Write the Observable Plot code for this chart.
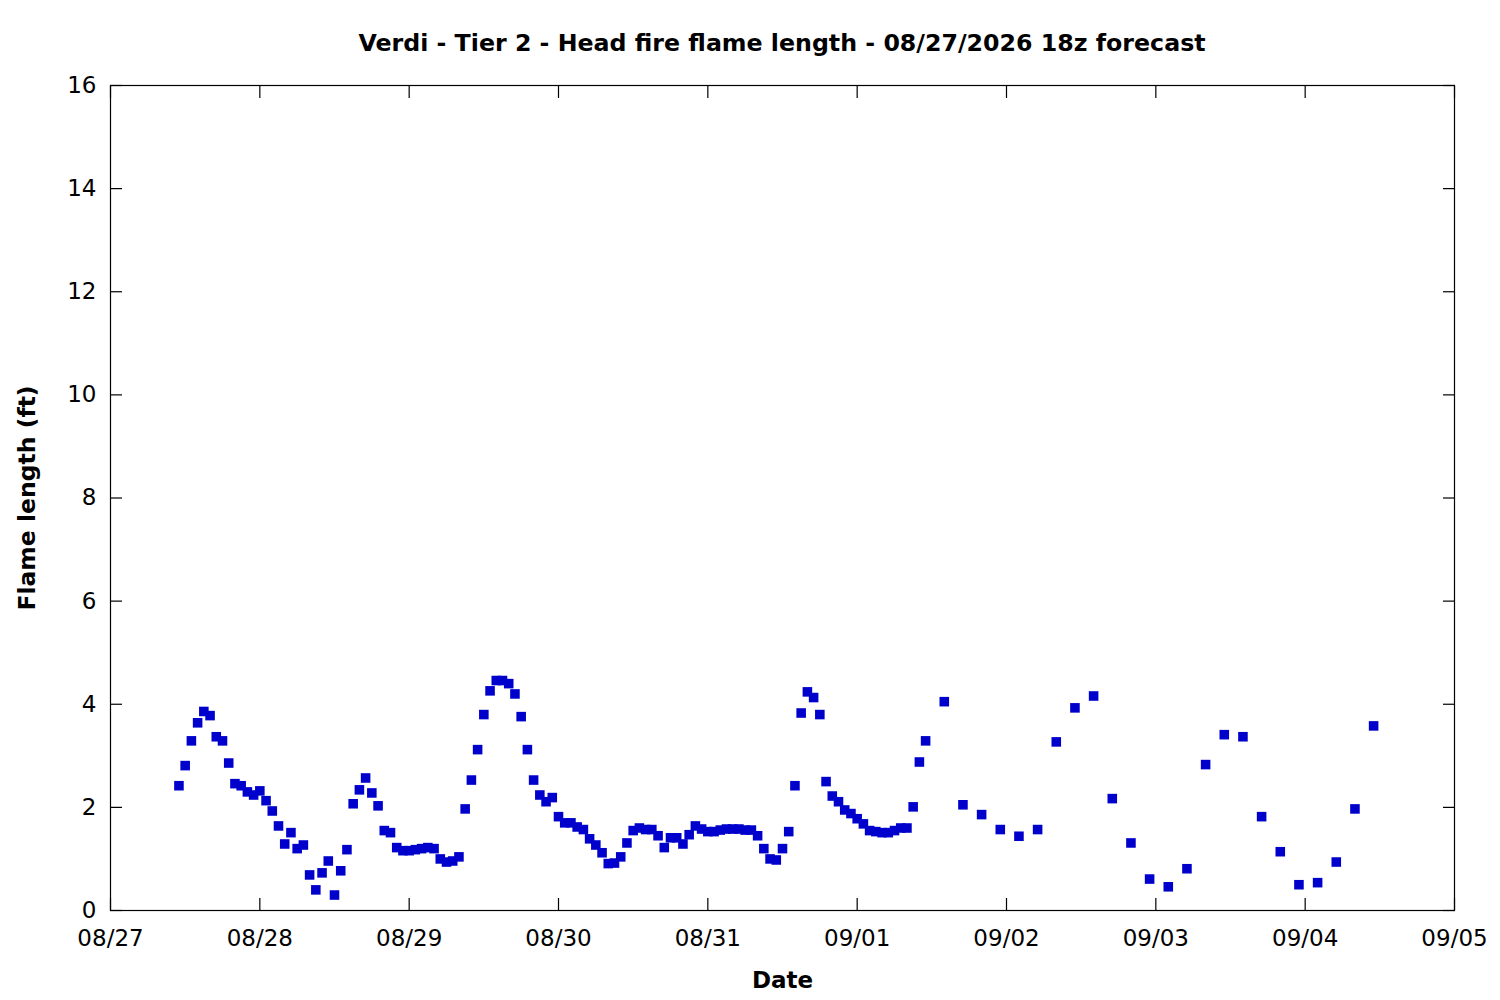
<!DOCTYPE html>
<html><head><meta charset="utf-8">
<script src="https://cdn.jsdelivr.net/npm/d3@7"></script>
<script src="https://cdn.jsdelivr.net/npm/@observablehq/plot@0.6"></script>
<style>
body{margin:0;background:#fff;font-family:"DejaVu Sans",sans-serif;}
#wrap{position:relative;width:1500px;height:1000px;background:#fff;}
#title{position:absolute;top:28px;left:110px;width:1344px;text-align:center;font-weight:bold;font-size:23.7px;line-height:30px;color:#000;}
#chart{position:absolute;top:70px;left:0;}
</style></head><body>
<div id="wrap"><div id="title">Verdi - Tier 2 - Head fire flame length - 08/27/2026 18z forecast</div><div id="chart"></div></div>
<script>
// Hourly forecast values, starting 2026-08-27 11:00 UTC
const hourlyStart = "2026-08-27T11:00:00Z";
const hourlyValues = [
  2.42, 2.81, 3.29, 3.64, 3.86, 3.78, 3.37, 3.29, 2.86, 2.46, 2.42, 2.30, 2.24,
  2.32, 2.13, 1.93, 1.64, 1.29, 1.51, 1.20, 1.27, 0.69, 0.40, 0.73, 0.96, 0.30,
  0.77, 1.18, 2.07, 2.34, 2.57, 2.28, 2.03, 1.55, 1.51, 1.22, 1.16,
  1.16, 1.18, 1.20, 1.22, 1.20, 1.00, 0.94, 0.96, 1.04, 1.97, 2.53, 3.12, 3.80,
  4.26, 4.46, 4.46, 4.40, 4.20, 3.76, 3.12, 2.53, 2.24, 2.11, 2.19,
  1.82, 1.70, 1.70, 1.62, 1.57, 1.39, 1.27, 1.12, 0.91, 0.92, 1.04, 1.31, 1.55,
  1.60, 1.57, 1.57, 1.45, 1.22, 1.41, 1.41, 1.29, 1.47, 1.64, 1.58,
  1.53, 1.53, 1.56, 1.58, 1.58, 1.58, 1.56, 1.56, 1.45, 1.20, 1.00, 0.98, 1.20,
  1.53, 2.42, 3.83, 4.24, 4.13, 3.80, 2.50, 2.22, 2.11, 1.95, 1.88,
  1.78, 1.68, 1.55, 1.53, 1.51, 1.51, 1.55, 1.60, 1.60, 2.01, 2.88, 3.29
];
// 3-hourly forecast values, starting 2026-09-01 14:00 UTC
const threeHourlyStart = "2026-09-01T14:00:00Z";
const threeHourlyValues = [
  4.05, 2.05, 1.86, 1.57, 1.44, 1.57, 3.27, 3.93, 4.16, 2.17, 1.31, 0.61,
  0.46, 0.81, 2.83, 3.41, 3.37, 1.82, 1.14, 0.50, 0.54, 0.94, 1.97, 3.58
];
const dayTicks = ["2026-08-27","2026-08-28","2026-08-29","2026-08-30","2026-08-31",
                  "2026-09-01","2026-09-02","2026-09-03","2026-09-04","2026-09-05"];
const yTicks = [0, 2, 4, 6, 8, 10, 12, 14, 16];

const HOUR = 3600 * 1000;
const t0 = new Date(hourlyStart).getTime();
const t1 = new Date(threeHourlyStart).getTime();
const data = [
  ...hourlyValues.map((v, i) => ({time: new Date(t0 + i * HOUR), value: v})),
  ...threeHourlyValues.map((v, i) => ({time: new Date(t1 + i * 3 * HOUR), value: v}))
];
const xTicks = dayTicks.map(d => new Date(d + "T00:00:00Z"));

const chart = Plot.plot({
  width: 1500,
  height: 930,
  marginTop: 15,
  marginBottom: 90,
  marginLeft: 110,
  marginRight: 46,
  style: {fontFamily: "DejaVu Sans", fontSize: "23px", color: "#000", background: "#fff"},
  x: {type: "utc", domain: [xTicks[0], xTicks[xTicks.length - 1]]},
  y: {domain: [0, 16]},
  marks: [
    Plot.frame({stroke: "#000", strokeWidth: 1.2}),
    Plot.axisY({anchor: "left", ticks: yTicks, tickSize: -12, fill: "none", label: null, strokeWidth: 1.2}),
    Plot.axisY({anchor: "right", ticks: yTicks, tickSize: -12, fill: "none", label: null, strokeWidth: 1.2}),
    Plot.axisY({anchor: "left", ticks: yTicks, tickSize: 0, tickPadding: 14, label: null, fontSize: 23}),
    Plot.axisX({anchor: "bottom", ticks: xTicks, tickSize: -12, fill: "none", label: null, strokeWidth: 1.2}),
    Plot.axisX({anchor: "top", ticks: xTicks, tickSize: -12, fill: "none", label: null, strokeWidth: 1.2}),
    Plot.axisX({anchor: "bottom", ticks: xTicks, tickSize: 0, tickPadding: 19, label: null, fontSize: 23,
                tickFormat: d3.utcFormat("%m/%d")}),
    Plot.dot(data, {x: "time", y: "value", symbol: "square", r: 5.4, fill: "#0000cc"}),
    Plot.text(["Flame length (ft)"], {frameAnchor: "left", dx: -83, rotate: -90, textAnchor: "middle",
                                       lineAnchor: "middle", fontWeight: "bold", fontSize: 23.5}),
    Plot.text(["Date"], {frameAnchor: "bottom", dy: 70, textAnchor: "middle", lineAnchor: "middle",
                         fontWeight: "bold", fontSize: 23})
  ]
});
document.getElementById("chart").appendChild(chart);
</script>
</body></html>
